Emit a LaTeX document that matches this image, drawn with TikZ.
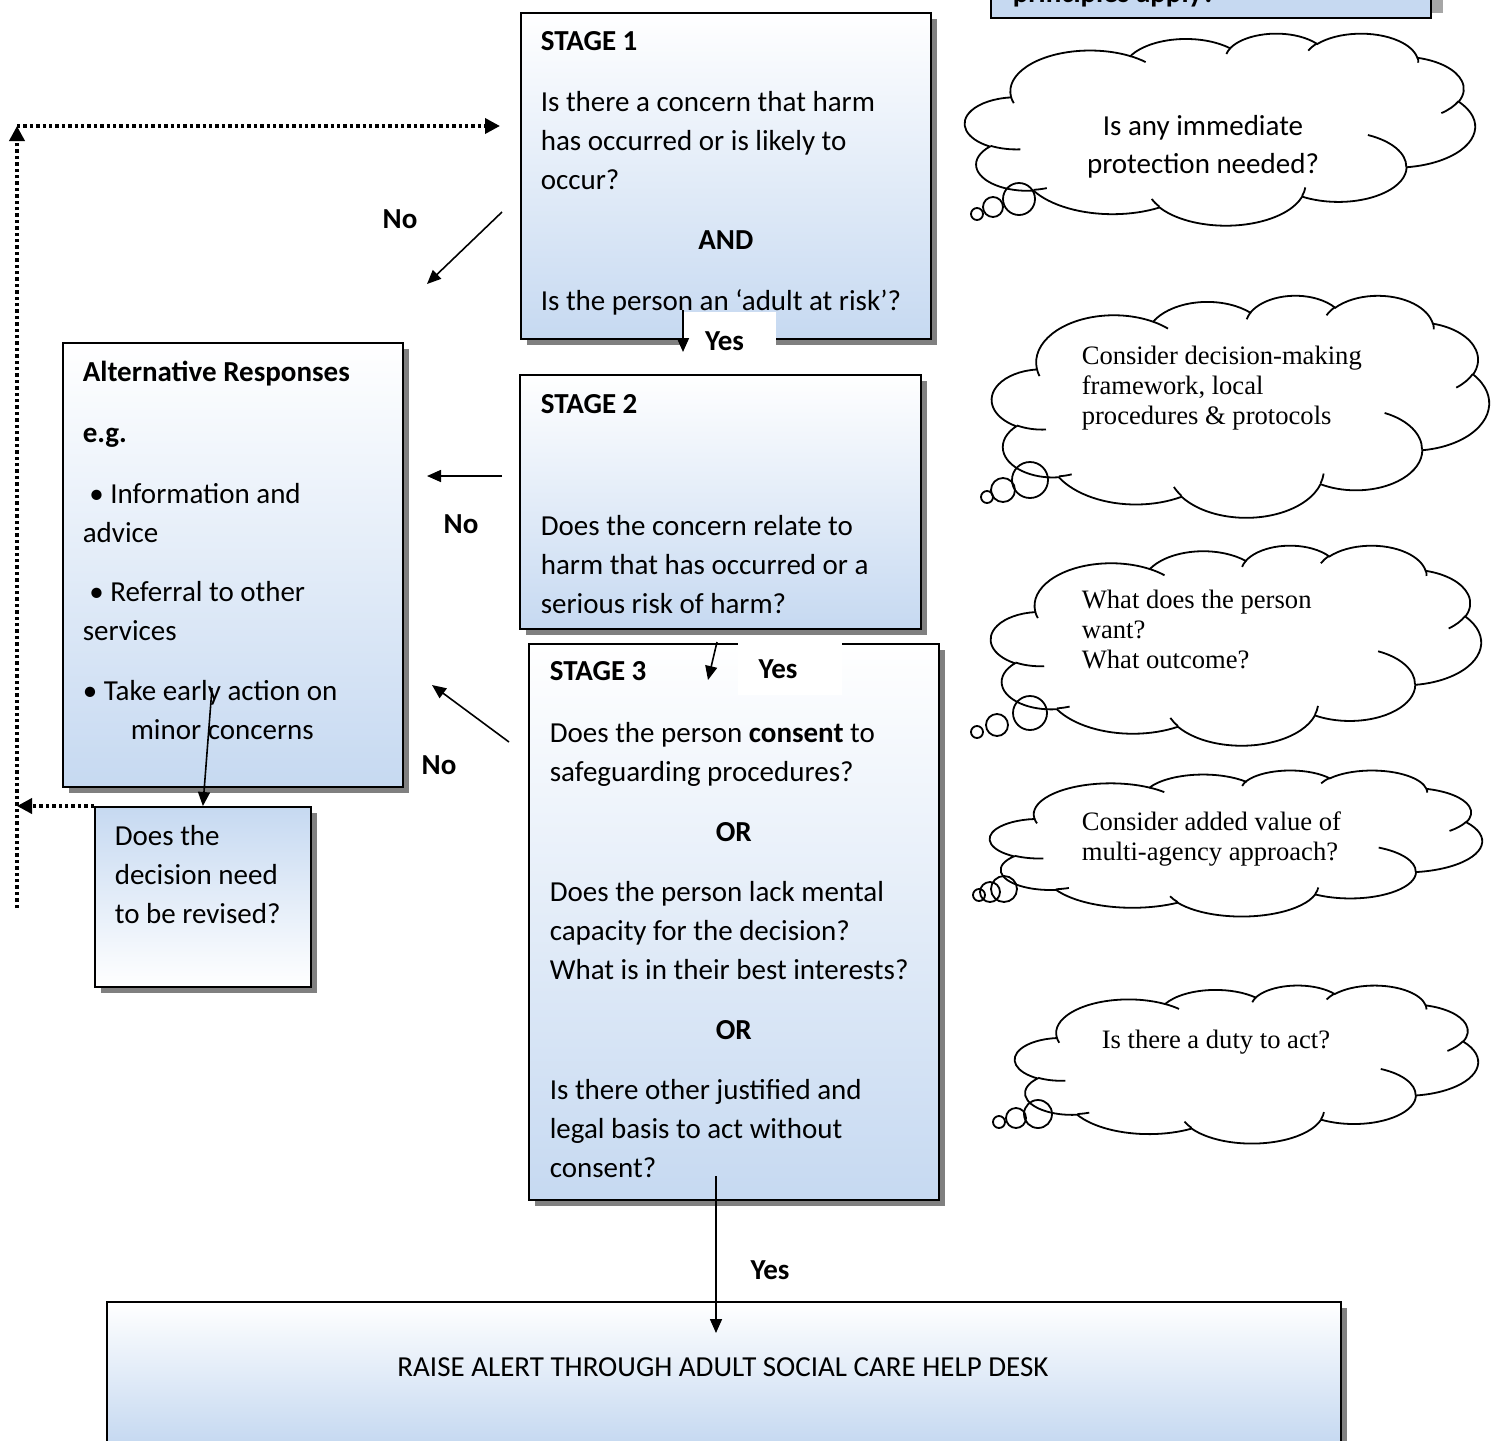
\documentclass[tikz,border=0pt]{standalone}
\usepackage{fontspec}
\setmainfont{Carlito}
\newfontfamily\timesfont{Liberation Serif}
\usepackage{tikz}
\usetikzlibrary{arrows.meta,shadows}

\definecolor{boxblue}{HTML}{C6D9F1}
\definecolor{shadowgray}{HTML}{808080}

% cloud outline: left, top, width, height (in picture units)
\newcommand\thoughtcloud[4]{%
  \pgfmathsetmacro\cloudx{#3/864}%
  \pgfmathsetmacro\cloudy{-#4/864}%
  \begin{scope}[shift={(#1,#2)}, x=\cloudx pt, y=\cloudy pt, line width=0.9pt]
    \draw[fill=white] (39,143.70)
      arc[start angle=-187.745, end angle=-59.63, x radius=67.53, y radius=91.90]
      arc[start angle=-152.03, end angle=-45.43, x radius=53.33, y radius=72.67]
      arc[start angle=-153.49, end angle=-37.33, x radius=43.65, y radius=59.45]
      arc[start angle=-139.71, end angle=-10.21, x radius=48.57, y radius=65.95]
      arc[start angle=-74.77, end angle=23.21, x radius=53.33, y radius=72.73]
      arc[start angle=-37.53, end angle=81.86, x radius=67.75, y radius=92.20]
      arc[start angle=0.4596, end angle=121.98, x radius=57.85, y radius=78.67]
      arc[start angle=16.85, end angle=146.26, x radius=67.52, y radius=92.15]
      arc[start angle=58.98, end angle=150.20, x radius=77.20, y radius=105.43]
      arc[start angle=-276.69, end angle=-136.88, x radius=43.60, y radius=59.18]
      arc[start angle=-239.64, end angle=-95.89, x radius=43.45, y radius=59.45]
      -- cycle;
    \draw (46.93,261.77) arc[start angle=85.547, end angle=120.36, x radius=43.45, y radius=59.45];
    \draw (69.28,348.99) arc[start angle=68.24, end angle=83.31, x radius=43.60, y radius=59.18];
    \draw (164.78,390.90) arc[start angle=146.26, end angle=158.47, x radius=67.52, y radius=92.15];
    \draw (288.27,347.51) arc[start angle=4.737, end angle=16.85, x radius=67.52, y radius=92.15];
    \draw (341.29,229.54) arc[start angle=-64.02, end angle=0.4596, x radius=57.85, y radius=78.67];
    \draw (417.98,153.54) arc[start angle=23.21, end angle=49.64, x radius=53.33, y radius=72.73];
    \draw (383.24,54.26) arc[start angle=-10.21, end angle=0.821, x radius=48.57, y radius=65.95];
    \draw (290.78,39.52) arc[start angle=-156.29, end angle=-139.71, x radius=48.57, y radius=65.95];
    \draw (221.41,47.20) arc[start angle=-167.73, end angle=-153.49, x radius=43.65, y radius=59.45];
    \draw (140.00,51.92) arc[start angle=-59.63, end angle=-45.72, x radius=67.53, y radius=91.90];
    \draw (41.27,157.89) arc[start angle=163.19, end angle=172.255, x radius=67.53, y radius=91.90];
  \end{scope}}

\begin{document}
\begin{tikzpicture}
  [
    x=0.5pt, y=-0.5pt,
    >={Triangle[length=7pt, width=6pt]},
    line width=0.8pt,
    stage box/.style={draw, line width=0.9pt, anchor=north west, inner sep=0pt,
      top color=white, bottom color=boxblue,
      general shadow={fill=shadowgray, shadow xshift=3pt, shadow yshift=-3pt}},
    revise box/.style={stage box, top color=boxblue, bottom color=white},
    box text/.style={anchor=north west, inner sep=0pt, align=left,
      font=\fontsize{14.5}{19.5}\selectfont},
    answer/.style={inner sep=0pt, font=\fontsize{14.5}{19.5}\selectfont\bfseries},
    yes patch/.style={answer, fill=white, anchor=base},
    thought text/.style={anchor=north west, inner sep=0pt, align=left,
      font=\timesfont\fontsize{13.3}{14.8}\selectfont},
    bubble/.style={circle, draw, line width=0.9pt, inner sep=0pt},
    revise line/.style={line width=1.8pt, dash pattern=on 1.7pt off 1.5pt,
      >={Triangle[length=7.5pt, width=7.5pt]}}
  ]
  \path[use as bounding box, clip] (0,0) rectangle (1495,1441);

  % box cut off at the top
  \node[draw, line width=0.9pt, fill=boxblue, anchor=north west, inner sep=0pt,
    minimum width=220pt, minimum height=28.5pt,
    general shadow={fill=shadowgray!70, shadow xshift=6pt, shadow yshift=2.5pt}]
    (prin) at (990,-40) {};
  \node[anchor=base west, answer] (printxt) at (1012,2) {principles apply?};

  % stages
  \node[stage box, minimum width=205pt, minimum height=163pt] (s1) at (520,12) {};
  \node[box text] (s1txt) at (540,22.7) {\strut\textbf{STAGE 1}\\[11pt]
    Is there a concern that harm\\
    has occurred or is likely to\\
    occur?\\[10.5pt]
    \makebox[185pt]{\textbf{AND}}\\[11pt]
    Is the person an ‘adult at risk’?};

  \node[stage box, minimum width=200.5pt, minimum height=127pt] (s2) at (519,374) {};
  \node[box text] (s2txt) at (540,385.7) {\strut\textbf{STAGE 2}\\[41.5pt]
    Does the concern relate to\\
    harm that has occurred or a\\
    serious risk of harm?};

  \node[stage box, minimum width=205pt, minimum height=278pt] (s3) at (528,643) {};
  \node[box text] (s3txt) at (549,652.7) {\strut\textbf{STAGE 3}\\[11.5pt]
    Does the person \textbf{consent} to\\
    safeguarding procedures?\\[10.5pt]
    \makebox[184pt]{\textbf{OR}}\\[10.5pt]
    Does the person lack mental\\
    capacity for the decision?\\
    What is in their best interests?\\[10.5pt]
    \makebox[184pt]{\textbf{OR}}\\[10.5pt]
    Is there other justified and\\
    legal basis to act without\\
    consent?};

  % alternatives
  \node[stage box, minimum width=170pt, minimum height=222pt] (alt) at (62,342) {};
  \node[box text] (alttxt) at (82,353.7) {\strut\textbf{Alternative Responses}\\[11pt]
    \textbf{e.g.}\\[11pt]
    \ • Information and\\
    advice\\[10pt]
    \ • Referral to other\\
    services\\[10.5pt]
    • Take early action on\\
    \hspace*{24pt}minor concerns};

  \node[revise box, minimum width=108pt, minimum height=90pt] (rev) at (94,806) {};
  \node[box text] (revtxt) at (114,817.7) {\strut Does the\\
    decision need\\
    to be revised?};

  \node[stage box, minimum width=617pt, minimum height=70pt] (alert) at (106,1301) {};
  \node[anchor=base, inner sep=0pt, font=\fontsize{14.5}{19.5}\selectfont]
    (alerttxt) at (723,1376) {RAISE ALERT THROUGH ADULT SOCIAL CARE HELP DESK};

  % answers
  \node[yes patch, text height=19pt, text depth=2pt, minimum width=46.5pt]
    (yes1) at (729.5,350) {\hspace*{-5pt}Yes};
  \node[yes patch, text height=21pt, text depth=8.5pt, minimum width=52pt]
    (yes2) at (790,678) {\hspace*{-12pt}Yes};
  \node[answer] (yes3) at (770,1270) {Yes};
  \node[answer] (no1) at (400,219) {No};
  \node[answer] (no2) at (461,524) {No};
  \node[answer] (no3) at (439,765) {No};

  \coordinate (yes1a) at (683,310);
  \coordinate (yes1b) at (683,352);
  \coordinate (yes2a) at (717,642);
  \coordinate (yes2b) at (708,680);
  \coordinate (yes3a) at (716,1176);
  \coordinate (yes3b) at (716,1333);
  \coordinate (no1a) at (502,212);
  \coordinate (no1b) at (427,284);
  \coordinate (no2a) at (502,476);
  \coordinate (no2b) at (427,476);
  \coordinate (no3a) at (509,742);
  \coordinate (no3b) at (432,685);
  \coordinate (revtop) at (212,688);
  \coordinate (loopbot) at (17,908);
  \coordinate (looptop) at (17,126);
  \coordinate (loopend) at (500,126);

  \draw[->] (yes1a) -- (yes1b);
  \draw[->] (yes2a) -- (yes2b);
  \draw[->] (yes3a) -- (yes3b);
  \draw[->] (no1a) -- (no1b);
  \draw[->] (no2a) -- (no2b);
  \draw[->] (no3a) -- (no3b);
  \draw[->] (revtop) -- (rev.north);

  \draw[revise line, ->] (rev.north west) -- (rev.north west -| loopbot);
  \draw[revise line, ->] (loopbot) -- (looptop);
  \draw[revise line, ->] (looptop) -- (loopend);

  % clouds
  \thoughtcloud{965}{33}{510}{192}
  \node[align=center, anchor=north, inner sep=0pt, font=\fontsize{14.5}{19}\selectfont]
    (c1txt) at (1203,108) {\strut Is any immediate\\protection needed?};
  \node[bubble, minimum size=6pt] (c1s) at (977,214) {};
  \node[bubble, minimum size=10pt] (c1m) at (993,207) {};
  \node[bubble, minimum size=16pt] (c1l) at (1019,199) {};

  \thoughtcloud{992}{295}{497}{222}
  \node[thought text] (c2txt) at (1081,343.3) {\strut Consider decision-making\\
    framework, local\\
    procedures \& protocols};
  \node[bubble, minimum size=6pt] (c2s) at (987,497) {};
  \node[bubble, minimum size=12pt] (c2m) at (1003,490) {};
  \node[bubble, minimum size=18pt] (c2l) at (1030,480) {};

  \thoughtcloud{991}{545}{490}{200}
  \node[thought text] (c3txt) at (1081,587.3) {\strut What does the person\\
    want?\\
    What outcome?};
  \node[bubble, minimum size=6pt] (c3s) at (977,732) {};
  \node[bubble, minimum size=11pt] (c3m) at (997,725) {};
  \node[bubble, minimum size=17pt] (c3l) at (1030,713) {};

  \thoughtcloud{990}{770}{492}{146}
  \node[thought text] (c4txt) at (1081,809.3) {\strut Consider added value of\\
    multi-agency approach?};
  \node[bubble, minimum size=6pt] (c4s) at (979,895) {};
  \node[bubble, minimum size=10pt] (c4m) at (990,892) {};
  \node[bubble, minimum size=13pt] (c4l) at (1004,889) {};

  \thoughtcloud{1015}{985}{463}{158}
  \node[thought text, anchor=base west] (c5txt) at (1101,1048) {Is there a duty to act?};
  \node[bubble, minimum size=6pt] (c5s) at (999,1122) {};
  \node[bubble, minimum size=10pt] (c5m) at (1016,1118) {};
  \node[bubble, minimum size=14pt] (c5l) at (1038,1114) {};
\end{tikzpicture}
\end{document}
